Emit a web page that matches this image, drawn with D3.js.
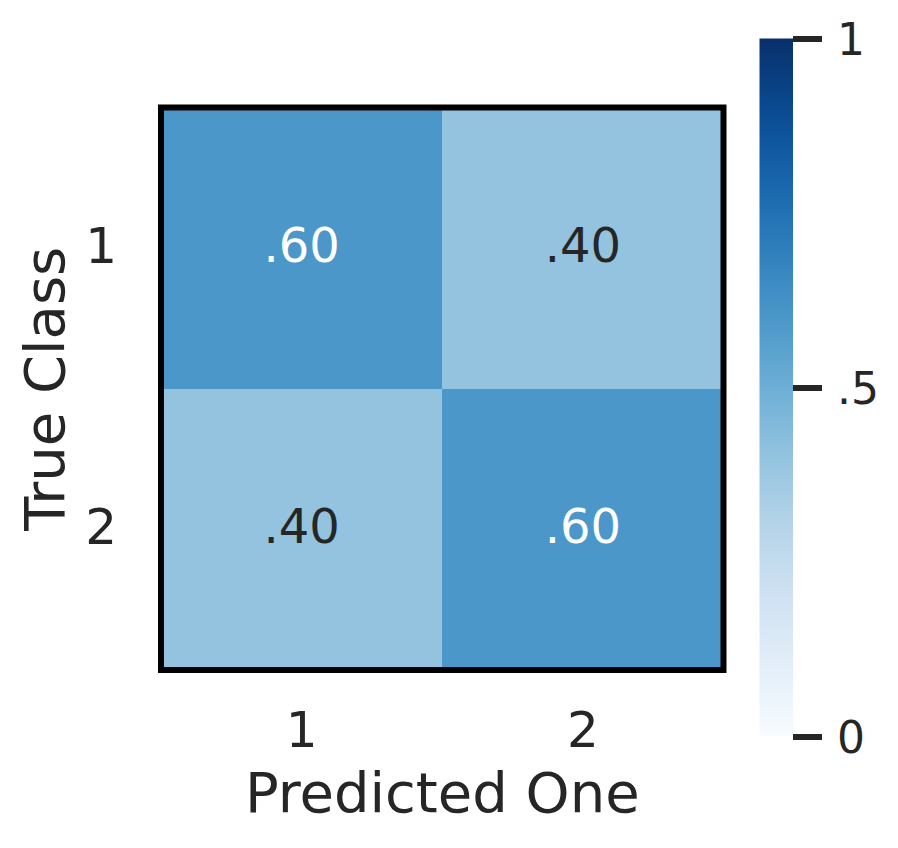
<!DOCTYPE html>
<html>
<head>
<meta charset="utf-8">
<script src="https://cdn.jsdelivr.net/npm/d3@7"></script>
<style>
  body { margin: 0; background: #fff; }
  text { font-family: "DejaVu Sans", sans-serif; fill: #262626; }
</style>
</head>
<body>
<div id="chart"></div>
<script>
// confusion matrix values (rows = true class, cols = predicted)
var rowLabels = ["1", "2"];
var colLabels = ["1", "2"];
var cellValues = [
  [0.6, 0.4],
  [0.4, 0.6]
];
var cellLabels = [
  [".60", ".40"],
  [".40", ".60"]
];
var cbarTicks = [0, 0.5, 1];
var cbarTickLabels = ["0", ".5", "1"];

var width = 898, height = 848;
var box = { left: 161, top: 107.5, size: 562.5 };

var svg = d3.select("#chart").append("svg")
  .attr("width", width)
  .attr("height", height);

var x = d3.scaleBand().domain(colLabels).range([box.left, box.left + box.size]);
var y = d3.scaleBand().domain(rowLabels).range([box.top, box.top + box.size]);
var color = d3.scaleSequential(d3.interpolateBlues).domain([0, 1]);

//flatten matrix into cells
var cells = [];
rowLabels.forEach(function(r, i) {
  colLabels.forEach(function(c, j) {
    cells.push({ row: r, col: c, value: cellValues[i][j], label: cellLabels[i][j] });
  });
});

svg.selectAll(".cell")
  .data(cells)
  .enter()
  .append("rect")
  .attr("class", "cell")
  .attr("x", d => x(d.col))
  .attr("y", d => y(d.row))
  .attr("width", x.bandwidth() + 0.5)
  .attr("height", y.bandwidth() + 0.5)
  .attr("shape-rendering", "crispEdges")
  .attr("fill", d => color(d.value));

svg.selectAll(".annot")
  .data(cells)
  .enter()
  .append("text")
  .attr("class", "annot")
  .attr("x", d => x(d.col) + x.bandwidth() / 2)
  .attr("y", d => y(d.row) + y.bandwidth() / 2 + 13.5)
  .attr("text-anchor", "middle")
  .style("font-size", "48px")
  .style("fill", d => d.value > 0.5 ? "#ffffff" : "#262626")
  .text(d => d.label);

// black frame around the heatmap
svg.append("rect")
  .attr("x", box.left)
  .attr("y", box.top)
  .attr("width", box.size)
  .attr("height", box.size)
  .attr("fill", "none")
  .attr("stroke", "#000")
  .attr("stroke-width", 6);

// tick labels (no tick marks)
svg.selectAll(".ylab")
  .data(rowLabels)
  .enter()
  .append("text")
  .attr("x", 117)
  .attr("y", d => y(d) + y.bandwidth() / 2 + 14.5)
  .attr("text-anchor", "end")
  .style("font-size", "50px")
  .text(d => d);

svg.selectAll(".xlab")
  .data(colLabels)
  .enter()
  .append("text")
  .attr("x", d => x(d) + x.bandwidth() / 2)
  .attr("y", 747)
  .attr("text-anchor", "middle")
  .style("font-size", "50px")
  .text(d => d);

// axis titles
svg.append("text")
  .attr("x", box.left + box.size / 2)
  .attr("y", 812)
  .attr("text-anchor", "middle")
  .style("font-size", "56px")
  .text("Predicted One");

svg.append("text")
  .attr("transform", "translate(64," + (box.top + box.size / 2) + ") rotate(-90)")
  .attr("text-anchor", "middle")
  .style("font-size", "56px")
  .text("True Class");

// colorbar
var cb = { x: 759.5, w: 33.5, top: 38.5, bottom: 736.5 };
var cbScale = d3.scaleLinear().domain([0, 1]).range([cb.bottom, cb.top]);

var grad = svg.append("defs").append("linearGradient")
  .attr("id", "cbgrad")
  .attr("x1", 0).attr("y1", 1)
  .attr("x2", 0).attr("y2", 0);
grad.selectAll("stop")
  .data(d3.range(0, 1.0001, 0.05))
  .enter()
  .append("stop")
  .attr("offset", d => d)
  .attr("stop-color", d => color(d));

svg.append("rect")
  .attr("x", cb.x)
  .attr("y", cb.top)
  .attr("width", cb.w)
  .attr("height", cb.bottom - cb.top)
  .attr("fill", "url(#cbgrad)");

var cbAxis = svg.append("g")
  .attr("transform", "translate(" + (cb.x + cb.w) + ",0)")
  .call(d3.axisRight(cbScale)
    .tickValues(cbarTicks)
    .tickFormat((d, i) => cbarTickLabels[i])
    .tickSize(29)
    .tickPadding(15));
cbAxis.select(".domain").remove();
cbAxis.selectAll(".tick line")
  .attr("stroke", "#262626")
  .attr("stroke-width", 6);
cbAxis.selectAll(".tick text")
  .attr("dy", "0.36em")
  .style("font-size", "44px")
  .style("font-family", "DejaVu Sans")
  .attr("fill", "#262626");
</script>
</body>
</html>
